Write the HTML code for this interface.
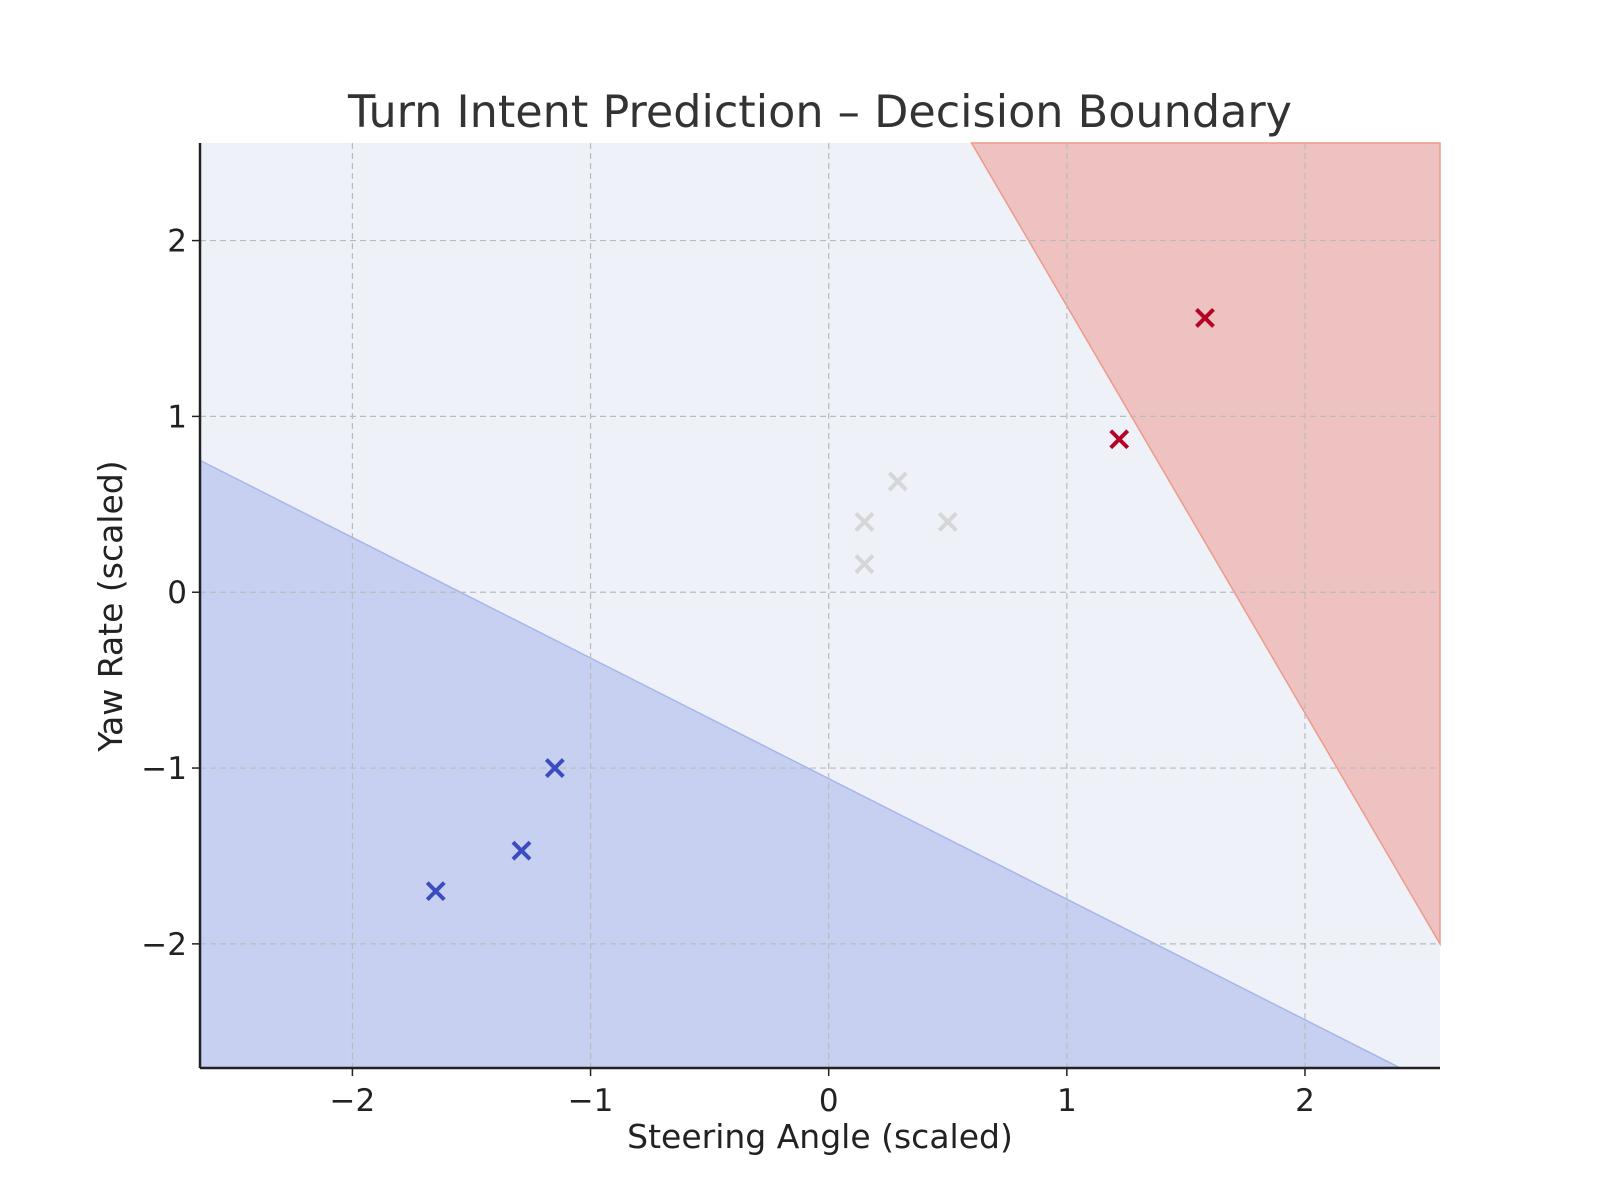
<!DOCTYPE html>
<html><head><meta charset="utf-8"><style>
html,body{margin:0;padding:0;background:#fff;}
svg{display:block;font-family:"DejaVu Sans","Liberation Sans",sans-serif;}
</style></head><body>
<svg id="chart" width="1600" height="1200" viewBox="0 0 1600 1200">
<text x="820" y="127" text-anchor="middle" font-size="44.5" fill="#333">Turn Intent Prediction – Decision Boundary</text>
<g id="plot"></g>
<text x="820" y="1148" text-anchor="middle" font-size="33" fill="#222">Steering Angle (scaled)</text>
<text x="0" y="0" transform="translate(122,606) rotate(-90)" text-anchor="middle" font-size="33" fill="#222">Yaw Rate (scaled)</text>
</svg>
<script>
const xTicks=[-2,-1,0,1,2];
const yTicks=[-2,-1,0,1,2];
const blueBoundary=[[-2.64,0.75],[2.4,-2.706]];
const redBoundary=[[0.6,2.555],[2.567,-2.0]];
const blueX=[-1.65,-1.29,-1.15], blueY=[-1.7,-1.47,-1.0];
const redX=[1.22,1.58], redY=[0.87,1.56];
const grayX=[0.15,0.15,0.29,0.5], grayY=[0.4,0.16,0.63,0.4];
const X0=200,X1=1440,Y0=143,Y1=1068;
const xmin=-2.64,xmax=2.567,ymin=-2.706,ymax=2.555;
const sx=v=>X0+(v-xmin)/(xmax-xmin)*(X1-X0);
const sy=v=>Y1-(v-ymin)/(ymax-ymin)*(Y1-Y0);
const NS="http://www.w3.org/2000/svg";
const g=document.getElementById('plot');
function mk(t,a,p){const e=document.createElementNS(NS,t);for(const k in a)e.setAttribute(k,a[k]);(p||g).appendChild(e);return e;}
const bg=mk('rect',{x:X0,y:Y0,width:X1-X0,height:Y1-Y0,fill:'#eef1f8'});


const b0=blueBoundary[0],b1=blueBoundary[1];
const bp=mk('polygon',{points:`${sx(b0[0])},${sy(b0[1])} ${sx(b1[0])},${sy(b1[1])} ${X0},${Y1}`,fill:'#c8d0f1',stroke:'#a7b5ee','stroke-width':1.5});


const r0=redBoundary[0],r1=redBoundary[1];
const rp=mk('polygon',{points:`${sx(r0[0])},${sy(r0[1])} ${X1},${Y0} ${X1},${sy(r1[1])} ${sx(r1[0])},${sy(r1[1])}`,fill:'#efc2c2',stroke:'#ee9a88','stroke-width':1.5});


xTicks.forEach(t=>{const x=sx(t);
 const l=mk('line',{x1:x,x2:x,y1:Y0,y2:Y1,stroke:'#bbb','stroke-dasharray':'6,4','stroke-width':1.2});
 
 mk('line',{x1:x,x2:x,y1:Y1,y2:Y1+8,stroke:'#222','stroke-width':1.5});
 const tx=mk('text',{x:x,y:Y1+43,'text-anchor':'middle','font-size':31,fill:'#222'});tx.textContent=(t<0?'\u2212'+(-t):t);
 });
yTicks.forEach(t=>{const y=sy(t);
 const l=mk('line',{x1:X0,x2:X1,y1:y,y2:y,stroke:'#bbb','stroke-dasharray':'6,4','stroke-width':1.2});
 
 mk('line',{x1:X0-8,x2:X0,y1:y,y2:y,stroke:'#222','stroke-width':1.5});
 const tx=mk('text',{x:X0-13,y:y+11,'text-anchor':'end','font-size':31,fill:'#222'});tx.textContent=(t<0?'\u2212'+(-t):t);
 });
mk('line',{x1:X0,x2:X0,y1:Y0,y2:Y1,stroke:'#222','stroke-width':2.5});
mk('line',{x1:X0,x2:X1,y1:Y1,y2:Y1,stroke:'#222','stroke-width':2.5});
function cross(xs,ys,c,name){xs.forEach((v,i)=>{const x=sx(v),y=sy(ys[i]),s=8.5;
 const p=mk('path',{d:`M${x-s},${y-s}L${x+s},${y+s}M${x-s},${y+s}L${x+s},${y-s}`,stroke:c,'stroke-width':4});
 });}
cross(grayX,grayY,'#d6d6d6','straight-point');
cross(blueX,blueY,'#3b4cc0','left-turn-point');
cross(redX,redY,'#b40426','right-turn-point');
</script>
</body></html>
